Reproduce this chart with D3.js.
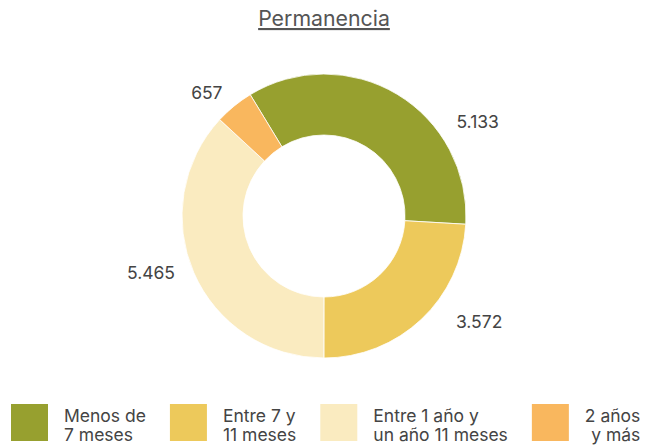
<!DOCTYPE html>
<html>
<head>
<meta charset="utf-8">
<script src="https://cdn.jsdelivr.net/npm/d3@7"></script>
<style>
  body { margin: 0; background: #fff; }
  svg { display: block; font-family: Inter, "Noto Sans", sans-serif; }
</style>
</head>
<body>
<svg id="chart"></svg>
<script>
// data
var categories = [["Menos de", "7 meses"], ["Entre 7 y", "11 meses"], ["Entre 1 año y", "un año 11 meses"], ["2 años", "y más"]];
var values = [5133, 3572, 5465, 657];
var colors = ["#97a02f", "#edc95b", "#faebc0", "#f9b75e"];
var title = "Permanencia";

var svgWidth = 651, svgHeight = 446;
var cx = 324, cy = 216, outerR = 142, innerR = 81;

var svg = d3.select('#chart').attr('width', svgWidth).attr('height', svgHeight);

// title
svg.append('text')
    .attr('x', cx)
    .attr('y', 26)
    .attr('text-anchor', 'middle')
    .attr('font-size', 21.3)
    .attr('fill', '#555')
    .attr('text-decoration', 'underline')
    .text(title);

var fmt = d3.formatLocale({decimal: ",", thousands: ".", grouping: [3], currency: ["", ""]}).format(",d");

var startDeg = -31.3;
var pie = d3.pie().sort(null)
    .startAngle(startDeg * Math.PI / 180)
    .endAngle((startDeg + 360) * Math.PI / 180);
var arc = d3.arc().innerRadius(innerR).outerRadius(outerR);

var g = svg.append('g').attr('transform', 'translate(' + cx + ',' + cy + ')');
var arcs = pie(values);

g.selectAll('path')
    .data(arcs)
    .enter()
    .append('path')
    .attr('d', arc)
    .attr('fill', function (d, i) { return colors[i]; })
    .attr('stroke', '#fff')
    .attr('stroke-width', 0.8);

// label placement (angle nudge from the slice middle, distance from centre)
var labelNudge = [27.6, -12.3, 5.5, -4.3];
var labelDist = [180, 188, 182, 170];
g.selectAll('text.val')
    .data(arcs)
    .enter()
    .append('text')
    .attr('class', 'val')
    .attr('font-size', 17.5)
    .attr('fill', '#444')
    .attr('text-anchor', 'middle')
    .attr('dy', '0.35em')
    .attr('x', function (d, i) {
        var a = (d.startAngle + d.endAngle) / 2 + labelNudge[i] * Math.PI / 180;
        return Math.sin(a) * labelDist[i];
    })
    .attr('y', function (d, i) {
        var a = (d.startAngle + d.endAngle) / 2 + labelNudge[i] * Math.PI / 180;
        return -Math.cos(a) * labelDist[i];
    })
    .text(function (d) { return fmt(d.value); });

// legend
var legend = svg.append('g');
var lx = 11, swatch = 37, legTop = 404;
categories.forEach(function (lines, i) {
    legend.append('rect')
        .attr('x', lx).attr('y', legTop)
        .attr('width', swatch).attr('height', swatch)
        .attr('fill', colors[i]);
    var tx = lx + swatch + 16;
    var txt = legend.append('text')
        .attr('font-size', 17.5)
        .attr('fill', '#444');
    lines.forEach(function (line, j) {
        txt.append('tspan').attr('x', tx).attr('y', 422 + j * 18.5).text(line);
    });
    var w = txt.node().getBBox().width;
    if (i === categories.length - 1) {
        txt.attr('text-anchor', 'end');
        txt.selectAll('tspan').attr('x', tx + w);
    }
    lx = tx + w + 24;
});
</script>
</body>
</html>
